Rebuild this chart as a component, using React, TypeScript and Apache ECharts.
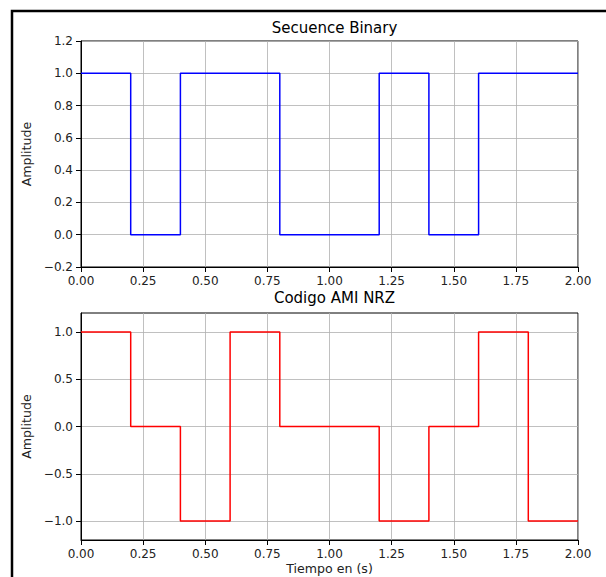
import React, { useEffect, useRef } from "react";
import * as echarts from "echarts";

const times = [0, 0.2, 0.4, 0.6, 0.8, 1.0, 1.2, 1.4, 1.6, 1.8, 2.0];
const binaryBits = [1, 0, 1, 1, 0, 0, 1, 0, 1, 1, 1];
const amiLevels = [1, 0, -1, 1, 0, 0, -1, 0, 1, -1, -1];
const amiTicks = [-1.0, -0.5, 0.0, 0.5, 1.0];
const titles = ["Secuence Binary", "Codigo AMI NRZ"];

const FONT = "DejaVu Sans";
const fmtY = (v: number) => {
  const s = Math.abs(v).toFixed(1);
  return v < -1e-9 ? "\u2212" + s : s;
};

export default function App() {
  const ref = useRef<HTMLDivElement>(null);
  useEffect(() => {
    document.body.style.margin = "0";
    const chart = echarts.init(ref.current!, null, { renderer: "svg" });
    const gridLine = { show: true, lineStyle: { color: "#b0b0b0", width: 0.8 } };
    const axisLine = { show: true, onZero: false, lineStyle: { color: "#000", width: 1 } };
    const axisTick = { show: true, inside: false, length: 5, lineStyle: { color: "#000", width: 1 } };
    const label = { color: "#222", fontFamily: FONT, fontSize: 12, margin: 8 };
    const nameStyle = { color: "#222", fontFamily: FONT, fontSize: 12.6 };
    const xAxisBase = (gi: number, name: string) => ({
      type: "value",
      gridIndex: gi,
      min: 0,
      max: 2,
      interval: 0.25,
      name,
      nameLocation: "middle",
      nameGap: 22,
      nameTextStyle: nameStyle,
      axisLine,
      axisTick,
      splitLine: gridLine,
      axisLabel: { ...label, formatter: (v: number) => v.toFixed(2) },
    });
    const titleStyle = { fontFamily: FONT, fontSize: 15, fontWeight: "normal", color: "#000" };
    chart.setOption({
      animation: false,
      backgroundColor: "#fff",
      title: [
        { text: titles[0], left: 329.5, top: 15, textAlign: "center", textStyle: titleStyle },
        { text: titles[1], left: 329.5, top: 285, textAlign: "center", textStyle: titleStyle },
      ],
      grid: [
        { left: 81, top: 41, width: 497, height: 226, show: true, borderColor: "#000", borderWidth: 1, backgroundColor: "transparent", outerBoundsMode: "none", containLabel: false },
        { left: 81, top: 313, width: 497, height: 227, show: true, borderColor: "#000", borderWidth: 1, backgroundColor: "transparent", outerBoundsMode: "none", containLabel: false },
      ],
      xAxis: [xAxisBase(0, ""), xAxisBase(1, "Tiempo en (s)")],
      yAxis: [
        {
          type: "value",
          gridIndex: 0,
          min: -0.2,
          max: 1.2,
          interval: 0.2,
          name: "Amplitude",
          nameLocation: "middle",
          nameGap: 43,
          nameTextStyle: nameStyle,
          axisLine,
          axisTick,
          splitLine: gridLine,
          axisLabel: { ...label, formatter: (v: number) => fmtY(v) },
        },
        {
          type: "value",
          gridIndex: 1,
          min: -1.2,
          max: 1.2,
          name: "Amplitude",
          nameLocation: "middle",
          nameGap: 43,
          nameTextStyle: nameStyle,
          axisLine,
          axisTick: { ...axisTick, customValues: amiTicks },
          splitLine: gridLine,
          axisLabel: { ...label, customValues: amiTicks, formatter: (v: number) => fmtY(v) },
        },
      ],
      series: [
        {
          type: "line",
          xAxisIndex: 0,
          yAxisIndex: 0,
          step: "end",
          showSymbol: false,
          symbol: "none",
          data: times.map((t, i) => [t, binaryBits[i]]),
          lineStyle: { color: "#0000ff", width: 1.5 },
        },
        {
          type: "line",
          xAxisIndex: 1,
          yAxisIndex: 1,
          step: "end",
          showSymbol: false,
          symbol: "none",
          data: times.map((t, i) => [t, amiLevels[i]]),
          lineStyle: { color: "#ff0000", width: 1.5 },
        },
      ],
      graphic: [
        {
          type: "polyline",
          shape: { points: [[12, 577], [12, 11], [606, 11]] },
          style: { stroke: "#000", lineWidth: 2.5, fill: "none" },
          z: 100,
        },
      ],
    });
    return () => chart.dispose();
  }, []);
  return <div ref={ref} style={{ width: 606, height: 577 }} />;
}
